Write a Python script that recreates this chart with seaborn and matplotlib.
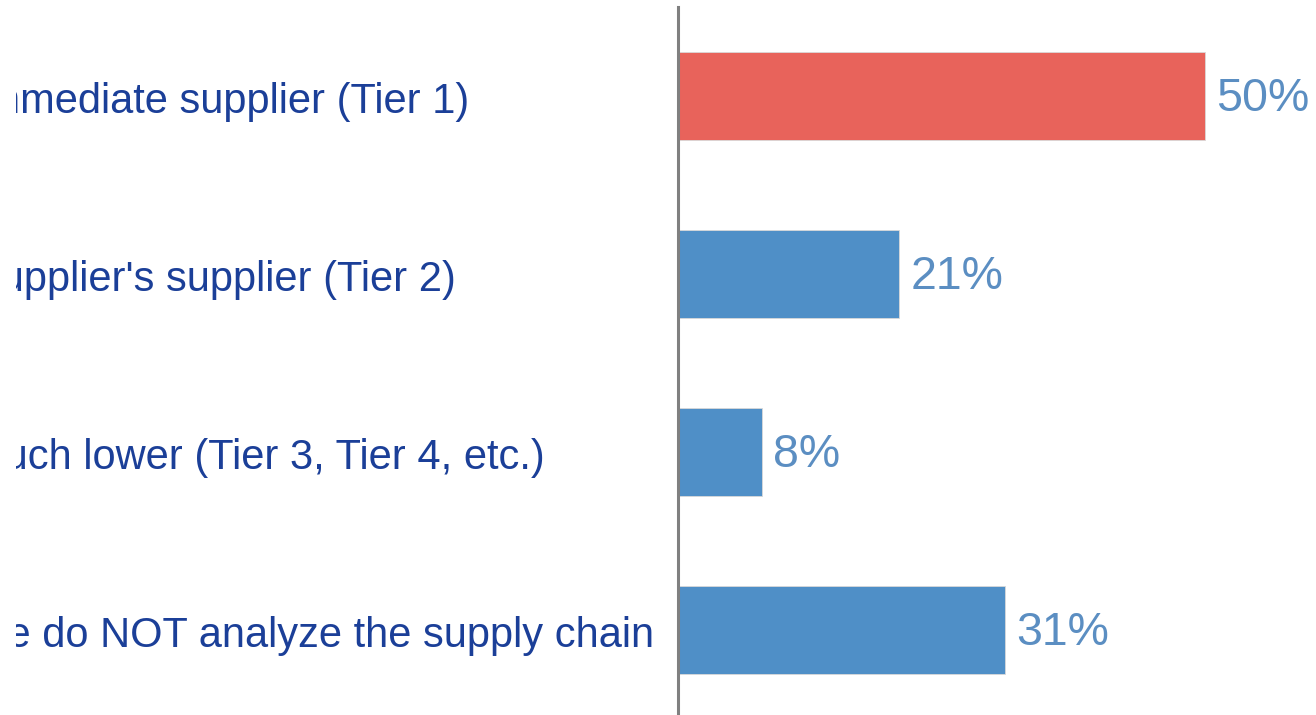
import matplotlib
matplotlib.use('Agg')
import matplotlib.pyplot as plt
import matplotlib.transforms as mtransforms
import pandas as pd
import seaborn as sns

# survey answers
categories = ['Immediate supplier (Tier 1)',
              "Supplier's supplier (Tier 2)",
              'Much lower (Tier 3, Tier 4, etc.)',
              'We do NOT analyze the supply chain']
shares = [50, 21, 8, 31]
bar_colors = ['#e8635b', '#4f8fc7', '#4f8fc7', '#4f8fc7']

# where each (cropped) label starts, in pixels from the left edge
label_x_px = [-26, -27, -30, -31]

sns.set_style('white')
plt.rcParams['font.family'] = ['Liberation Sans', 'DejaVu Sans']

df = pd.DataFrame({'answer': categories, 'share': shares})

W, H = 1316, 715
fig = plt.figure(figsize=(W / 100, H / 100), dpi=100)
ax = fig.add_axes([678 / W, -4 / H, 638 / W, 712 / H])

sns.barplot(data=df, x='share', y='answer', hue='answer',
            palette=bar_colors, orient='h', width=0.49, legend=False,
            edgecolor='#d9d9d9', linewidth=0.6, saturation=1, ax=ax)

ax.set_xlim(0, 60.5)
ax.set_ylim(3.5, -0.5)
ax.set_xlabel('')
ax.set_ylabel('')
ax.set_xticks([])
ax.set_yticks([])
for side in ['top', 'right', 'bottom']:
    ax.spines[side].set_visible(False)
ax.spines['left'].set_color('#808080')
ax.spines['left'].set_linewidth(2.2)

# value labels
for i, v in enumerate(shares):
    ax.annotate(f'{v}%', xy=(v, i), xytext=(8, -2), textcoords='offset points',
                ha='left', va='center', fontsize=33.5, color='#5b8ec2')

# category labels, cut off at the left like the reference
clip = mtransforms.TransformedBbox(
    mtransforms.Bbox([[16 / W, 0], [1, 1]]), fig.transFigure)
shift = mtransforms.ScaledTranslation(0, -0.06, fig.dpi_scale_trans)
trans = mtransforms.blended_transform_factory(fig.transFigure, ax.transData) + shift
for i, (lab, px) in enumerate(zip(categories, label_x_px)):
    t = fig.text(px / W, i, lab, transform=trans, ha='left', va='center',
                 fontsize=30, color='#1b3f98')
    t.set_clip_on(True)
    t.set_clip_box(clip)

fig.savefig('out.png', dpi=100, facecolor='white')
